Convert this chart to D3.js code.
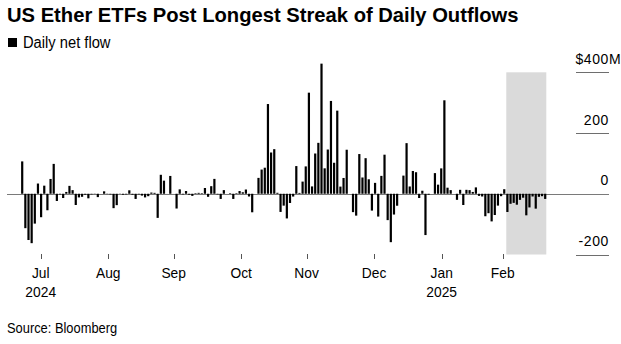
<!DOCTYPE html>
<html>
<head>
<meta charset="utf-8">
<script src="https://cdn.jsdelivr.net/npm/d3@7"></script>
<style>
  html, body { margin: 0; padding: 0; background: #fff; }
  svg { display: block; font-family: "Liberation Sans", Arial, Helvetica, sans-serif; }
</style>
</head>
<body>
<svg id="chart" width="621" height="344"></svg>
<script>
// ---- data ----
const titleText = "US Ether ETFs Post Longest Streak of Daily Outflows";
const legendLabel = "Daily net flow";
const sourceText = "Source: Bloomberg";

const firstDate = "2024-07-23";
const lastDate = "2025-03-21";

// daily net flow, $M, one per trading day from firstDate to lastDate
const flows = [
  106.6, -113.3, -152.3, -162.7, -98.3, 33.7, -77.2, 26.7, -54.3, 48.8,
  98.4, -23.7, -2, -14, 6, 26, 12, -37, -12, -10,
  -3, -15, -2, -1, -11, 0, 8, -1, -2, -47.4,
  -37.5, 0.7, -3, -2, 11.4, -3, -17, -2, -6, -12,
  -8, 4, 3, -79.4, 62.5, 43.2, -0.1, 58.7, 0.1, -48.6,
  14.5, -2, 9, -3, -7, 2, 3, 2, 19, -10,
  25, 49, -2, -17, 12, 0, 2, -17, 2, 9,
  5, 14, -9, -61, 0, 52.3, 79.7, 85.8, 295.5, 135.9,
  146.9, 3.2, -59.8, -39.1, -81.2, -30.3, -9.2, 91.2, 2.8, 40.1,
  90.1, 332.9, 24.2, 132.6, 167.7, 428.5, 83.8, 145.7, 305.7, 102.1,
  273.7, 23.6, 52, 145, 0, -60.5, -72, 130.8, 53.6, 117.2,
  47.7, -55.4, 35.9, -75.1, 58.9, 128.7, -86.8, -159.4, -68.4, -39.4,
  0, 59.8, 166.7, 24, 75, 71, -14, 10, -136, -3,
  0, 68, 30, 83.6, 307.8, 20, 12, 0, -20, 13,
  -37, 13, 12, 6, 21, -7, -9, -74, -64, -91,
  -70, -39, -8, 15, -60, -33, -30, -36, -20, -13,
  -71, -45, -9, -49, -10, -8, -17
];

// highlighted outflow streak (bar positions in the series)
const streakFirst = 154;
const streakLast = 166;

const yTicks = [400, 200, 0, -200];
const yTickLabels = ["400", "200", "0", "-200"];
const yUnitPrefix = "$";
const yUnitSuffix = "M";

const monthTickDates = ["2024-08-01", "2024-09-01", "2024-10-01", "2024-11-01",
                        "2024-12-01", "2025-01-01", "2025-02-01", "2025-03-01"];
const monthLabels = ["Jul", "Aug", "Sep", "Oct", "Nov", "Dec", "Jan", "Feb"];
const yearLabels  = ["2024", "", "", "", "", "", "2025", ""];

// ---- layout ----
const plotLeft = 21.1, plotRight = 546.3;
const yTop = 72.3, yBottom = 254.5;

const svg = d3.select("#chart");
const parse = d3.utcParse("%Y-%m-%d");

const xTime = d3.scaleUtc()
  .domain([parse(firstDate), parse(lastDate)])
  .range([plotLeft, plotRight]);

const xBand = d3.scaleBand()
  .domain(d3.range(flows.length))
  .range([plotLeft, plotRight])
  .paddingInner(0.3)
  .paddingOuter(0);

const y = d3.scaleLinear().domain([-200, 400]).range([yBottom, yTop]);

function condText(g, x, yy, txt, size, anchor, sx, weight) {
  return g.append("text")
    .attr("transform", `translate(${x},${yy}) scale(${sx},1)`)
    .attr("text-anchor", anchor)
    .attr("font-size", size)
    .attr("font-weight", weight || "normal")
    .attr("fill", "#000")
    .text(txt);
}

// title
svg.append("text")
  .attr("x", 7).attr("y", 22)
  .attr("font-size", 20.2).attr("font-weight", "bold")
  .attr("fill", "#000")
  .text(titleText);

// legend
svg.append("rect").attr("x", 8).attr("y", 38).attr("width", 9).attr("height", 9).attr("fill", "#000");
condText(svg, 23, 47.5, legendLabel, 16, "start", 0.92);

// highlight shade
svg.append("rect")
  .attr("x", xBand(streakFirst))
  .attr("y", y(400))
  .attr("width", xBand(streakLast) + xBand.bandwidth() - xBand(streakFirst))
  .attr("height", y(-200) - y(400))
  .attr("fill", "#dadada");

// y gridline stubs and labels
const yAxisG = svg.append("g");
const stubL = 576, stubR = 609;
yTicks.forEach((v, i) => {
  const yy = Math.round(y(v)) + 0.5;
  yAxisG.append("line")
    .attr("x1", v === 0 ? 7 : stubL).attr("x2", stubR)
    .attr("y1", yy).attr("y2", yy)
    .attr("stroke", v === 0 ? "#7a7a7a" : "#6e6e6e").attr("stroke-width", 1);
  const t = yAxisG.append("text")
    .attr("x", stubR).attr("y", y(v) - 8.5)
    .attr("text-anchor", "end")
    .attr("font-size", 14)
    .attr("letter-spacing", 0.6)
    .attr("fill", "#000");
  if (i === 0) {
    t.append("tspan").text(yUnitPrefix);
    t.append("tspan").text(yTickLabels[i]);
    t.append("tspan").text(yUnitSuffix);
    const tmp = yAxisG.append("text").attr("font-size", 14).attr("letter-spacing", 0.6).text(yUnitSuffix);
    const sw = tmp.node().getComputedTextLength();
    tmp.remove();
    t.attr("x", stubR + sw);
  } else {
    t.text(yTickLabels[i]);
  }
});

// bars
svg.append("g").selectAll("rect")
  .data(flows)
  .join("rect")
  .attr("x", (d, i) => xBand(i))
  .attr("width", xBand.bandwidth())
  .attr("y", d => y(Math.max(0, d)))
  .attr("height", d => Math.abs(y(d) - y(0)))
  .attr("fill", "#000");

// x axis
const tickDates = monthTickDates.map(parse);
const xAxis = d3.axisBottom(xTime)
  .tickValues(tickDates)
  .tickSize(5)
  .tickFormat("");
const xg = svg.append("g").attr("transform", `translate(0,${254})`).call(xAxis);
xg.select(".domain").remove();
xg.selectAll(".tick line").attr("stroke", "#555").attr("shape-rendering", "crispEdges");

tickDates.forEach((d, i) => {
  condText(svg, xTime(d), 278, monthLabels[i], 15, "middle", 0.92);
  if (yearLabels[i]) condText(svg, xTime(d), 297, yearLabels[i], 15, "middle", 0.92);
});

// source
condText(svg, 7, 333, sourceText, 14, "start", 0.92);
</script>
</body>
</html>
